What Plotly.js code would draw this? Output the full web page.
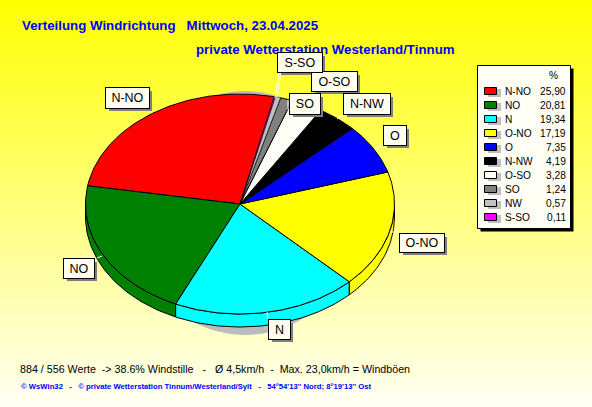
<!DOCTYPE html>
<html>
<head>
<meta charset="utf-8">
<script src="https://cdn.plot.ly/plotly-3.0.1.min.js"></script>
<style>
html,body{margin:0;padding:0;width:592px;height:407px;overflow:hidden}
#chart{width:592px;height:407px;background:linear-gradient(to bottom,#ffff00 0%,#fffff4 100%)}
</style>
</head>
<body>
<div id="chart"></div>
<script>
// --- data ---
const categories = ["N-NO","NO","N","O-NO","O","N-NW","O-SO","SO","NW","S-SO"];
const percent    = [25.90,20.81,19.34,17.19,7.35,4.19,3.28,1.24,0.57,0.11];
const percentLabels = ["25,90","20,81","19,34","17,19","7,35","4,19","3,28","1,24","0,57","0,11"];
const sliceColors = ["#ff0000","#008000","#00ffff","#ffff00","#0000ff","#000000","#fffff8","#808080","#c0c0c0","#ff00ff"];

const titleLine1 = "Verteilung Windrichtung   Mittwoch, 23.04.2025";
const titleLine2 = "private Wetterstation Westerland/Tinnum";
const footerLine = "884 / 556 Werte  -> 38.6% Windstille   -   Ø 4,5km/h  -  Max. 23,0km/h = Windböen";
const creditLine = "© WsWin32   -   © private Wetterstation Tinnum/Westerland/Sylt   -   54°54'13'' Nord; 8°19'13'' Ost";

// --- layout of the tilted pie (pixel-scaled axes) ---
const cx = 240, cy = 204, rx = 154.5, ry = 110, depth = 13, startDeg = 12.8;
const shadow = {cx:245, cy:213, rx:115, ry:122, color:"#bcbcbc"};

// label boxes: [x0,y0,x1,y1] and leader [x0,y0,x1,y1]
const labelBoxes = {
  "S-SO":[277,52,321,71], "O-SO":[311,71,356,90], "SO":[289,93,319,113],
  "N-NW":[343,93,389,113], "O":[383,125,405,144], "N-NO":[105,87,148,107],
  "NO":[63,258,93,277], "N":[268,319,289,338], "O-NO":[399,233,443,251]
};
const leaders = [
  [279,72,275,98],[281,72,277,98],[288,100,288,110],[345,113,337,119],[385,144,375,149],
  [398,232,390,232],[102,256,97,258],[267,312,268,319],[148,107,152,111]
];

const pt = (deg,r=1,dy=0)=>{
  const t = deg*Math.PI/180;
  return [cx + rx*r*Math.sin(t), cy + dy - ry*r*Math.cos(t)];
};
function arc(a,b,dy=0){
  const n = Math.max(2,Math.ceil(Math.abs(a-b)));
  const out=[];
  for(let i=0;i<=n;i++) out.push(pt(a+(b-a)*i/n,1,dy));
  return out;
}
const total = percent.reduce((s,v)=>s+v,0);
let cursor = startDeg;
const angles = percent.map(v=>{const a0=cursor; cursor-=v/total*360; return [a0,cursor];});

const traces=[];
function poly(points,fill,lineW=1){
  const xs=points.map(p=>p[0]), ys=points.map(p=>p[1]);
  xs.push(xs[0]); ys.push(ys[0]);
  traces.push({type:"scatter",mode:"lines",x:xs,y:ys,fill:"toself",fillcolor:fill,
    line:{color:"#000000",width:lineW},hoverinfo:"skip",showlegend:false});
}
// drop shadow of the pie
{
  const xs=[],ys=[];
  for(let d=0;d<=360;d+=3){const t=d*Math.PI/180;xs.push(shadow.cx+shadow.rx*Math.sin(t));ys.push(shadow.cy-shadow.ry*Math.cos(t));}
  traces.push({type:"scatter",mode:"lines",x:xs,y:ys,fill:"toself",fillcolor:shadow.color,
    line:{color:shadow.color,width:0},hoverinfo:"skip",showlegend:false});
}
// side wall
angles.forEach((a,i)=>{
  const hi=Math.min(a[0],-90), lo=Math.max(a[1],-270);
  if(hi>lo) poly(arc(hi,lo,0).concat(arc(lo,hi,depth)),sliceColors[i]);
});
// top face
angles.forEach((a,i)=>{
  poly([[cx,cy]].concat(arc(a[0],a[1])),sliceColors[i],percent[i]<1?0.5:1);
});

const shapes=[], annotations=[];
const rect=(x0,y0,x1,y1,fill,line)=>shapes.push({type:"rect",xref:"x",yref:"y",x0,y0,x1,y1,fillcolor:fill,
  line:line?{color:line,width:1}:{width:0},layer:"above"});
const seg=(c)=>shapes.push({type:"line",xref:"x",yref:"y",x0:c[0],y0:c[1],x1:c[2],y1:c[3],line:{color:"#ffffff",width:1},layer:"above"});
const nb=s=>s.replace(/ {2,}/g,m=>"\u00a0".repeat(m.length));
const text=(x,y,t,size,color,opts={})=>annotations.push(Object.assign({xref:"x",yref:"y",x,y,text:t,showarrow:false,
  xanchor:"left",yanchor:"middle",borderpad:0,
  font:{family:"Liberation Sans, Arial, sans-serif",size,color}},opts));

// titles first so the label boxes paint over them
text(21,25,"<b>"+nb(titleLine1)+"</b>",13.3,"#0000ff");
text(195,49,"<b>"+nb(titleLine2)+"</b>",13.3,"#0000ff");
text(19,369,nb(footerLine),10.7,"#000000");
text(20,386,"<b>"+nb(creditLine)+"</b>",7.7,"#0000ff");

leaders.forEach(seg);
// pie labels
categories.forEach(c=>{
  const b=labelBoxes[c]; if(!b) return;
  rect(b[0]+4,b[1]+4,b[2]+4,b[3]+4,"#808080");
});
categories.forEach(c=>{
  const b=labelBoxes[c]; if(!b) return;
  annotations.push({xref:"x",yref:"y",x:b[0],y:b[1],xanchor:"left",yanchor:"top",
    width:b[2]-b[0],height:b[3]-b[1],text:c,showarrow:false,align:"center",valign:"middle",
    bgcolor:"#fffff0",bordercolor:"#000000",borderwidth:1,borderpad:0,
    font:{family:"Liberation Sans, Arial, sans-serif",size:12.5,color:"#000000"}});
});

// legend table
const legX0=477.5, legY0=65.5, legX1=570.5, legY1=228.5, legRow0=91, legRowStep=14;
rect(legX0+3,legY0+3,legX1+3,legY1+3,"#000000");
rect(legX0,legY0,legX1,legY1,"#fffff6","#000000");
text(553,75,"%",10.2,"#000000",{xanchor:"center"});
categories.forEach((c,i)=>{
  const y=legRow0+i*legRowStep;
  rect(488,y-2,501,y+6,"#c0c0c0");
  rect(484.5,y-3.5,496.5,y+3.5,sliceColors[i],"#000000");
  text(503.5,y,c,10.2,"#000000");
  text(566.5,y,percentLabels[i],10.2,"#000000",{xanchor:"right"});
});

const layout={
  width:592,height:407,margin:{l:0,r:0,t:0,b:0,pad:0},
  paper_bgcolor:"rgba(0,0,0,0)",plot_bgcolor:"rgba(0,0,0,0)",showlegend:false,
  xaxis:{range:[0,592],visible:false,fixedrange:true},
  yaxis:{range:[407,0],visible:false,fixedrange:true},
  shapes,annotations
};
Plotly.newPlot("chart",traces,layout,{displayModeBar:false,staticPlot:true});
</script>
</body>
</html>
